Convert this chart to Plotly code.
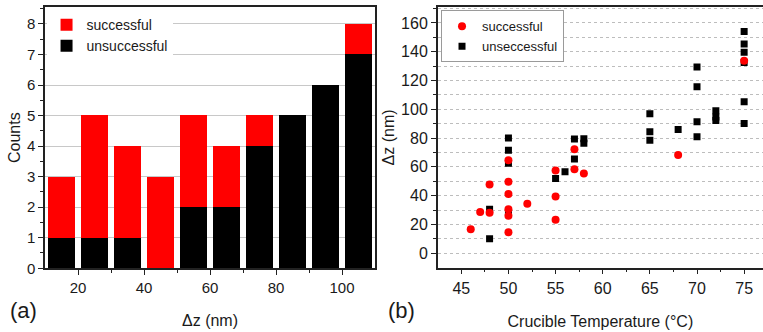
import plotly.graph_objects as go

# ---- data: left histogram ----
bin_centers = [15, 25, 35, 45, 55, 65, 75, 85, 95, 105]
unsuccessful_counts = [1, 1, 1, 0, 2, 2, 4, 5, 6, 7]
successful_counts = [2, 4, 3, 3, 3, 2, 1, 0, 0, 1]

# ---- data: right scatter ----
succ_T = [46, 47, 48, 48, 50, 50, 50, 50, 50, 50, 52, 55, 55, 55, 57, 57, 58, 68, 75]
succ_dz = [16.7, 28.6, 47.7, 28.1, 64.6, 49.7, 41.2, 30.6, 26.1, 14.6, 34.4, 57.4, 39.4, 23.2, 72.2, 58.3, 55.4, 68.2, 133.7]
uns_T = [48, 48, 50, 50, 50, 50, 55, 56, 57, 57, 58, 58, 65, 65, 65, 68, 70, 70, 70, 70,
         72, 72, 72, 75, 75, 75, 75, 75, 75]
uns_dz = [30.6, 10.1, 80.1, 71.6, 62.6, 28.8, 52.0, 56.7, 79.4, 65.5, 79.5, 76.5, 97.0, 84.4, 78.5, 86.0,
          129.4, 115.7, 91.4, 81.0, 99.0, 94.7, 92.2, 154.1, 145.4, 139.7, 132.5, 105.3, 90.2]

FONT = "Liberation Sans, Arial, sans-serif"
TXT = "#1a1a1a"

fig = go.Figure()

fig.add_trace(go.Bar(x=bin_centers, y=unsuccessful_counts, width=8.1, name="unsuccessful",
                     marker=dict(color="#000000", line=dict(width=0)),
                     xaxis="x", yaxis="y", legend="legend"))
fig.add_trace(go.Bar(x=bin_centers, y=successful_counts, width=8.1, name="successful",
                     marker=dict(color="#ff0000", line=dict(width=0)),
                     xaxis="x", yaxis="y", legend="legend"))

fig.add_trace(go.Scatter(x=uns_T, y=uns_dz, mode="markers", name="unseccessful",
                         marker=dict(symbol="square", size=7, color="#000000"),
                         xaxis="x2", yaxis="y2", legend="legend2", legendrank=2))
fig.add_trace(go.Scatter(x=succ_T, y=succ_dz, mode="markers", name="successful",
                         marker=dict(symbol="circle", size=8, color="#ff0000"),
                         xaxis="x2", yaxis="y2", legend="legend2", legendrank=1))

tickfont = dict(family=FONT, size=15, color=TXT)
tickfont2 = dict(family=FONT, size=16, color=TXT)

fig.update_layout(
    width=763, height=332,
    margin=dict(l=0, r=0, t=0, b=0),
    paper_bgcolor="white", plot_bgcolor="white",
    barmode="stack", bargap=0,
    font=dict(family=FONT, color=TXT),
    xaxis=dict(domain=[0.059, 0.4915], range=[10, 110], tickvals=[20, 40, 60, 80, 100],
               ticks="outside", ticklen=5, tickwidth=1.2, tickcolor="#222",
               minor=dict(tickvals=[30, 50, 70, 90], ticks="outside", ticklen=3, tickcolor="#222"),
               showline=True, linecolor="#222", linewidth=1.5, mirror=True,
               showgrid=False, zeroline=False, tickfont=tickfont,
               title=dict(text="Δz (nm)", font=dict(family=FONT, size=16, color=TXT), standoff=20),
               anchor="y"),
    yaxis=dict(domain=[0.172, 0.978], range=[0, 8.55], dtick=1,
               ticks="outside", ticklen=5, tickwidth=1.2, tickcolor="#222",
               minor=dict(dtick=0.5, ticks="outside", ticklen=3, tickcolor="#222", showgrid=False),
               showline=True, linecolor="#222", linewidth=1.5, mirror=True,
               showgrid=True, gridcolor="#c8c8c8", gridwidth=1, zeroline=False,
               tickfont=tickfont,
               title=dict(text="Counts", font=dict(family=FONT, size=16, color=TXT), standoff=2),
               anchor="x"),
    xaxis2=dict(domain=[0.5737, 1.0], range=[42.5, 77.0], tickvals=[45, 50, 55, 60, 65, 70, 75],
                ticks="outside", ticklen=5, tickwidth=1.2, tickcolor="#222",
                minor=dict(tickvals=[47.5, 52.5, 57.5, 62.5, 67.5, 72.5], ticks="outside", ticklen=3, tickcolor="#222"),
                showline=True, linecolor="#222", linewidth=1.5, mirror=True,
                showgrid=False, zeroline=False, tickfont=tickfont2,
                title=dict(text="Crucible Temperature (°C)", font=dict(family=FONT, size=16, color=TXT), standoff=20),
                anchor="y2"),
    yaxis2=dict(domain=[0.174, 0.978], range=[-10, 171], tickvals=[0, 20, 40, 60, 80, 100, 120, 140, 160],
                ticks="outside", ticklen=5, tickwidth=1.2, tickcolor="#222",
                minor=dict(tickvals=[10, 30, 50, 70, 90, 110, 130, 150, 170], ticks="outside", ticklen=3,
                           tickcolor="#222", showgrid=True, gridcolor="#bdbdbd", griddash="dot", gridwidth=1),
                showline=True, linecolor="#222", linewidth=1.5, mirror=False,
                showgrid=True, gridcolor="#bdbdbd", griddash="dot", gridwidth=1, zeroline=False,
                tickfont=tickfont2,
                title=dict(text="Δz (nm)", font=dict(family=FONT, size=16, color=TXT), standoff=2),
                anchor="x2"),
    legend=dict(x=0.061, y=0.972, xanchor="left", yanchor="top", bgcolor="white",
                borderwidth=0, font=dict(family=FONT, size=14, color=TXT),
                traceorder="reversed", tracegroupgap=0, itemwidth=30),
    legend2=dict(x=0.578, y=0.968, xanchor="left", yanchor="top", bgcolor="white",
                 bordercolor="#9a9a9a", borderwidth=1, font=dict(family=FONT, size=13, color=TXT),
                 tracegroupgap=0, itemwidth=30),
    annotations=[
        dict(text="(a)", x=0.031, y=0.042, xref="paper", yref="paper", xanchor="center", yanchor="middle",
             showarrow=False, font=dict(family=FONT, size=22, color=TXT)),
        dict(text="(b)", x=0.5265, y=0.042, xref="paper", yref="paper", xanchor="center", yanchor="middle",
             showarrow=False, font=dict(family=FONT, size=22, color=TXT)),
    ],
)

fig.write_html("out.html")
